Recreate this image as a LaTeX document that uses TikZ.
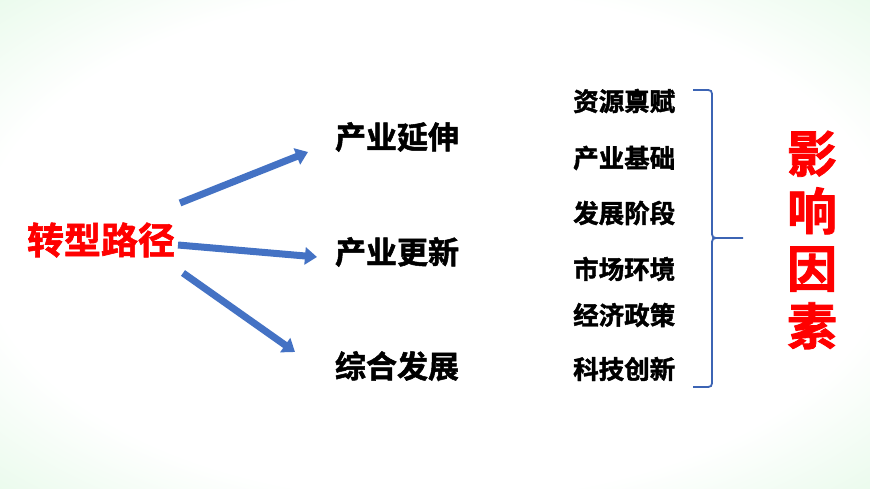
\documentclass[tikz,border=0pt]{standalone}
\usepackage{fontspec}
\newfontfamily\cjk{Noto Sans CJK SC}[BoldFont={Noto Sans CJK SC Bold}, BoldFeatures={FakeBold=1.6}]
\usetikzlibrary{arrows.meta}
\definecolor{arrowblue}{RGB}{68,114,196}
\definecolor{bracebl}{RGB}{60,100,180}
\definecolor{redtxt}{RGB}{255,0,0}
\definecolor{greenbg}{RGB}{208,245,213}
\pgfdeclareradialshading{vignette}{\pgfpoint{0bp}{0bp}}{color(0bp)=(white); color(26bp)=(white); color(48bp)=(greenbg); color(75bp)=(greenbg)}
\tikzset{
  pathtxt/.style = {text = redtxt, font = \cjk\bfseries\fontsize{37}{40}\selectfont, inner sep = 0pt},
  waytxt/.style = {text = black, font = \cjk\bfseries\fontsize{31}{34}\selectfont, inner sep = 0pt},
  factxt/.style = {text = black, font = \cjk\bfseries\fontsize{25.5}{28}\selectfont, inner sep = 0pt, anchor = west},
  bigtxt/.style = {text = redtxt, font = \cjk\bfseries\fontsize{50}{57.5}\selectfont, inner sep = 0pt, align = center},
  blockarrow/.style = {arrowblue, line width = 7pt, -{Triangle[length = 12pt, width = 17pt]}}
}
\begin{document}
\begin{tikzpicture}[x = 1pt, y = -1pt]
    \useasboundingbox (0, 0) rectangle (870, 489);
    \shade[shading = vignette] (0, 0) rectangle (870, 489);
    % left side
    \node[pathtxt] (zx) at (101, 240) {转型路径};
    \node[waytxt] (ys) at (397, 137) {产业延伸};
    \node[waytxt] (gx) at (397, 252) {产业更新};
    \node[waytxt] (zh) at (397, 366) {综合发展};
    \coordinate (A1) at (180, 203);
    \coordinate (B1) at (308, 152);
    \coordinate (A2) at (178, 245);
    \coordinate (B2) at (317, 257);
    \coordinate (A3) at (183, 273);
    \coordinate (B3) at (295, 352);
    \draw[blockarrow] (A1) -- (B1);
    \draw[blockarrow] (A2) -- (B2);
    \draw[blockarrow] (A3) -- (B3);
    % factors
    \node[factxt] (f1) at (573, 101) {资源禀赋};
    \node[factxt] (f2) at (573, 158) {产业基础};
    \node[factxt] (f3) at (573, 213) {发展阶段};
    \node[factxt] (f4) at (573, 269) {市场环境};
    \node[factxt] (f5) at (573, 315) {经济政策};
    \node[factxt] (f6) at (573, 369) {科技创新};
    % brace
    \draw[bracebl, line width = 1.8pt] (693, 90) -- (704, 90) .. controls (712, 90) .. (712, 98)
        -- (712, 230) .. controls (712, 238) .. (720, 238) -- (743, 238);
    \draw[bracebl, line width = 1.8pt] (720, 238) .. controls (712, 238) .. (712, 246)
        -- (712, 379) .. controls (712, 387) .. (704, 387) -- (693, 387);
    \node[bigtxt] (yx) at (812, 240) {影\\响\\因\\素};
\end{tikzpicture}
\end{document}
